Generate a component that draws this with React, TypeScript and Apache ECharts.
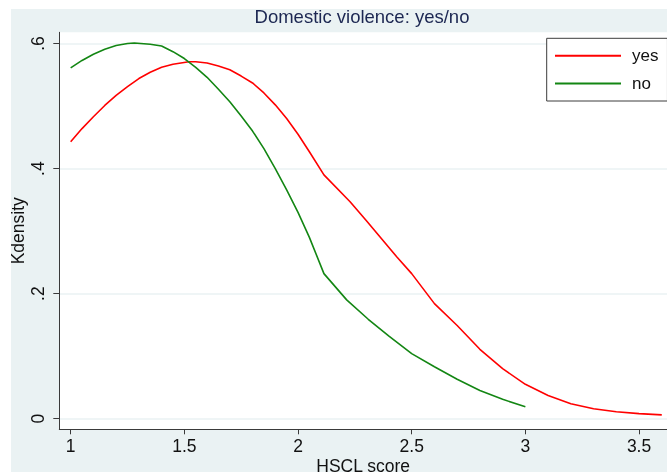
import React, { useEffect, useRef } from "react";
import * as echarts from "echarts";

const title = "Domestic violence: yes/no";
const xTicks = [1, 1.5, 2, 2.5, 3, 3.5];
const yTicks = [0, 0.2, 0.4, 0.6];

const yesX = [1.0, 1.05, 1.1, 1.15, 1.2, 1.25, 1.3, 1.35, 1.4, 1.45, 1.52, 1.55, 1.6, 1.65, 1.7, 1.75, 1.8, 1.85, 1.9, 1.95, 2.0, 2.05, 2.114, 2.229, 2.3, 2.434, 2.5, 2.6, 2.7, 2.8, 2.9, 3.0, 3.1, 3.2, 3.3, 3.4, 3.5, 3.6];
const yesY = [0.443, 0.464, 0.483, 0.501, 0.517, 0.531, 0.544, 0.554, 0.562, 0.567, 0.571, 0.571, 0.569, 0.564, 0.558, 0.548, 0.537, 0.521, 0.502, 0.48, 0.455, 0.427, 0.39, 0.347, 0.317, 0.259, 0.232, 0.184, 0.149, 0.111, 0.08, 0.055, 0.037, 0.024, 0.016, 0.011, 0.008, 0.006];

const noX = [1.0, 1.05, 1.1, 1.15, 1.2, 1.25, 1.28, 1.35, 1.4, 1.45, 1.5, 1.55, 1.6, 1.65, 1.7, 1.75, 1.8, 1.85, 1.9, 1.95, 2.0, 2.05, 2.114, 2.214, 2.309, 2.4, 2.5, 2.6, 2.7, 2.8, 2.9, 3.0];
const noY = [0.561, 0.573, 0.583, 0.591, 0.597, 0.6, 0.601, 0.599, 0.596, 0.587, 0.576, 0.562, 0.546, 0.527, 0.507, 0.484, 0.46, 0.432, 0.4, 0.366, 0.33, 0.29, 0.232, 0.19, 0.159, 0.132, 0.104, 0.083, 0.063, 0.045, 0.031, 0.019];

const FONT = "'Liberation Sans', Arial, sans-serif";

export default function App() {
  const ref = useRef<HTMLDivElement>(null);
  useEffect(() => {
    if (!ref.current) return;
    const chart = echarts.init(ref.current, null, { renderer: "svg" });
    const axisColor = "#3a3a3a";
    chart.setOption({
      animation: false,
      textStyle: { fontFamily: FONT },
      graphic: [
        {
          type: "rect",
          z: -10,
          shape: { x: 11, y: 9, width: 656, height: 463 },
          style: { fill: "#eaf2f3" },
          silent: true,
        },
      ],
      title: {
        text: title,
        left: 362,
        top: 7,
        padding: 0,
        textAlign: "center",
        textStyle: { fontFamily: FONT, fontSize: 18.5, fontWeight: "normal", color: "#1c2752" },
      },
      legend: {
        orient: "vertical",
        left: 546.7,
        top: 38.3,
        padding: [9, 9, 9, 7.3],
        itemWidth: 66,
        itemHeight: 14,
        itemGap: 10.7,
        itemStyle: { opacity: 0 },
        backgroundColor: "#ffffff",
        borderColor: "#3c3c3c",
        borderWidth: 1,
        borderRadius: 0,
        textStyle: { fontFamily: FONT, fontSize: 17, color: "#111", padding: [0, 0, 0, 6] },
        data: ["yes", "no"],
      },
      grid: {
        left: 59.3,
        top: 32.3,
        right: 0,
        bottom: 472 - 429.3,
        show: true,
        backgroundColor: "#ffffff",
        borderWidth: 0,
        containLabel: false,
        outerBoundsMode: "none",
      },
      xAxis: {
        type: "value",
        min: 0.95,
        max: 3.623,
        name: "HSCL score",
        nameLocation: "middle",
        nameGap: 28,
        nameMoveOverlap: false,
        nameTextStyle: { fontFamily: FONT, fontSize: 17.5, color: "#111" },
        axisLine: { show: true, onZero: false, lineStyle: { color: axisColor, width: 1 } },
        axisTick: { show: true, length: 5, customValues: xTicks, lineStyle: { color: axisColor } },
        axisLabel: {
          customValues: xTicks,
          margin: 8,
          fontFamily: FONT,
          fontSize: 17.5,
          color: "#111",
          formatter: (v: number) => String(v),
        },
        splitLine: { show: false },
      },
      yAxis: {
        type: "value",
        min: -0.017,
        max: 0.618,
        name: "Kdensity",
        nameLocation: "middle",
        nameRotate: 90,
        nameGap: 32,
        nameMoveOverlap: false,
        nameTextStyle: { fontFamily: FONT, fontSize: 17.5, color: "#111" },
        axisLine: { show: true, onZero: false, lineStyle: { color: axisColor, width: 1 } },
        axisTick: { show: true, length: 6, customValues: yTicks, lineStyle: { color: axisColor } },
        axisLabel: {
          customValues: yTicks,
          rotate: 90,
          margin: 12,
          fontFamily: FONT,
          fontSize: 17.5,
          color: "#111",
          formatter: (v: number) => (v === 0 ? "0" : String(Math.round(v * 10) / 10).replace(/^0\./, ".")),
        },
        splitLine: { show: true, lineStyle: { color: "#eaf2f3", width: 1.5 } },
      },
      series: [
        {
          name: "yes",
          type: "line",
          symbol: "none",
          smooth: false,
          lineStyle: { color: "#ff0000", width: 1.6 },
          itemStyle: { color: "#ff0000" },
          data: yesX.map((x, i) => [x, yesY[i]]),
        },
        {
          name: "no",
          type: "line",
          symbol: "none",
          smooth: false,
          lineStyle: { color: "#138613", width: 1.6 },
          itemStyle: { color: "#138613" },
          data: noX.map((x, i) => [x, noY[i]]),
        },
      ],
    });
    return () => chart.dispose();
  }, []);
  return <div ref={ref} style={{ position: "fixed", left: 0, top: 0, width: 667, height: 472 }} />;
}
